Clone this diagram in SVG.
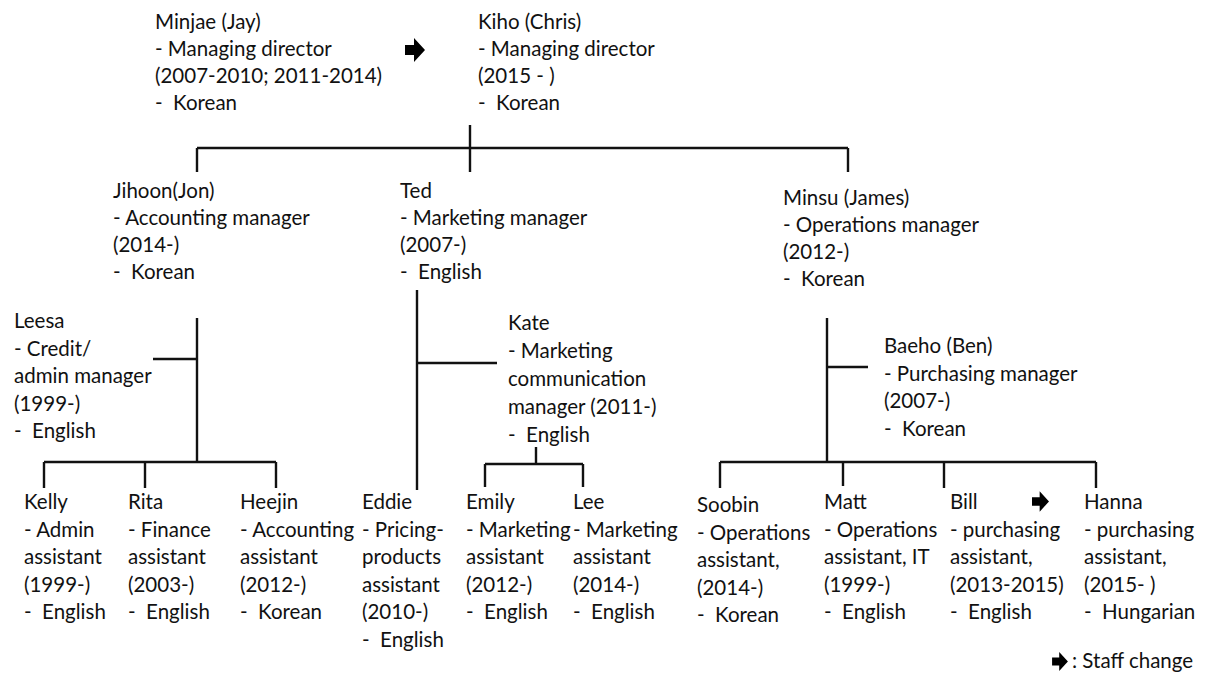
<svg xmlns="http://www.w3.org/2000/svg" width="1206" height="674" viewBox="0 0 1206 674">
<defs>
<style>
.t{font-family:Lato,"Open Sans","Noto Sans",sans-serif;font-size:20.5px;fill:#111;white-space:pre}
.c{stroke:#111;stroke-width:2.4;fill:none}
.arr{fill:#000}
</style>
<symbol id="blockArrow" viewBox="0 0 20 24" overflow="visible">
<path d="M0 7 H9 V0 L20 12 L9 24 V17 H0 Z"/>
</symbol>
</defs>
<rect width="1206" height="674" fill="#fff"/>

<g id="connectors">
<path class="c" d="M470 125 V148 M197 148 H848 M197 148 V172 M470 148 V172 M848 148 V172"/>
<path class="c" d="M197 318 V462 M153 359 H197 M44 462 H276 M44 462 V488 M145 462 V488 M276 462 V488"/>
<path class="c" d="M417 290 V490 M417 363 H497 M536 447 V464 M485 464 H583 M485 464 V487 M583 464 V487"/>
<path class="c" d="M827 318 V462 M827 367 H868 M720 462 H1096 M720 462 V488 M843 462 V486 M944 462 V488 M1096 462 V488"/>
</g>

<g id="change-arrows" class="arr">
<use href="#blockArrow" x="405" y="38" width="20" height="24"/>
<use href="#blockArrow" x="1032" y="491" width="17" height="21"/>
<use href="#blockArrow" x="1052" y="652" width="16" height="19"/>
</g>

<g id="node-minjae"><text class="t" x="155" y="29"><tspan x="155">Minjae (Jay)</tspan><tspan x="155" dy="27">- Managing director</tspan><tspan x="155" dy="27">(2007-2010; 2011-2014)</tspan><tspan x="155" dy="27">-  Korean</tspan></text></g>
<g id="node-kiho"><text class="t" x="478" y="29"><tspan x="478">Kiho (Chris)</tspan><tspan x="478" dy="27">- Managing director</tspan><tspan x="478" dy="27">(2015 - )</tspan><tspan x="478" dy="27">-  Korean</tspan></text></g>

<g id="node-jihoon"><text class="t" x="113" y="198"><tspan x="113">Jihoon(Jon)</tspan><tspan x="113" dy="27">- Accounting manager</tspan><tspan x="113" dy="27">(2014-)</tspan><tspan x="113" dy="27">-  Korean</tspan></text></g>
<g id="node-ted"><text class="t" x="400" y="198"><tspan x="400">Ted</tspan><tspan x="400" dy="27">- Marketing manager</tspan><tspan x="400" dy="27">(2007-)</tspan><tspan x="400" dy="27">-  English</tspan></text></g>
<g id="node-minsu"><text class="t" x="783" y="205"><tspan x="783">Minsu (James)</tspan><tspan x="783" dy="27">- Operations manager</tspan><tspan x="783" dy="27">(2012-)</tspan><tspan x="783" dy="27">-  Korean</tspan></text></g>

<g id="node-leesa"><text class="t" x="14" y="328"><tspan x="14">Leesa</tspan><tspan x="14" dy="27.5">- Credit/</tspan><tspan x="14" dy="27.5">admin manager</tspan><tspan x="14" dy="27.5">(1999-)</tspan><tspan x="14" dy="27.5">-  English</tspan></text></g>
<g id="node-kate"><text class="t" x="508" y="330"><tspan x="508">Kate</tspan><tspan x="508" dy="28">- Marketing</tspan><tspan x="508" dy="28">communication</tspan><tspan x="508" dy="28">manager (2011-)</tspan><tspan x="508" dy="28">-  English</tspan></text></g>
<g id="node-baeho"><text class="t" x="884" y="353"><tspan x="884">Baeho (Ben)</tspan><tspan x="884" dy="27.5">- Purchasing manager</tspan><tspan x="884" dy="27.5">(2007-)</tspan><tspan x="884" dy="27.5">-  Korean</tspan></text></g>

<g id="node-kelly"><text class="t" x="24" y="509"><tspan x="24">Kelly</tspan><tspan x="24" dy="27.5">- Admin</tspan><tspan x="24" dy="27.5">assistant</tspan><tspan x="24" dy="27.5">(1999-)</tspan><tspan x="24" dy="27.5">-  English</tspan></text></g>
<g id="node-rita"><text class="t" x="128" y="509"><tspan x="128">Rita</tspan><tspan x="128" dy="27.5">- Finance</tspan><tspan x="128" dy="27.5">assistant</tspan><tspan x="128" dy="27.5">(2003-)</tspan><tspan x="128" dy="27.5">-  English</tspan></text></g>
<g id="node-heejin"><text class="t" x="240" y="509"><tspan x="240">Heejin</tspan><tspan x="240" dy="27.5">- Accounting</tspan><tspan x="240" dy="27.5">assistant</tspan><tspan x="240" dy="27.5">(2012-)</tspan><tspan x="240" dy="27.5">-  Korean</tspan></text></g>
<g id="node-eddie"><text class="t" x="362" y="509"><tspan x="362">Eddie</tspan><tspan x="362" dy="27.5">- Pricing-</tspan><tspan x="362" dy="27.5">products</tspan><tspan x="362" dy="27.5">assistant</tspan><tspan x="362" dy="27.5">(2010-)</tspan><tspan x="362" dy="27.5">-  English</tspan></text></g>
<g id="node-emily"><text class="t" x="466" y="509"><tspan x="466">Emily</tspan><tspan x="466" dy="27.5">- Marketing</tspan><tspan x="466" dy="27.5">assistant</tspan><tspan x="466" dy="27.5">(2012-)</tspan><tspan x="466" dy="27.5">-  English</tspan></text></g>
<g id="node-lee"><text class="t" x="573" y="509"><tspan x="573">Lee</tspan><tspan x="573" dy="27.5">- Marketing</tspan><tspan x="573" dy="27.5">assistant</tspan><tspan x="573" dy="27.5">(2014-)</tspan><tspan x="573" dy="27.5">-  English</tspan></text></g>
<g id="node-soobin"><text class="t" x="697" y="512"><tspan x="697">Soobin</tspan><tspan x="697" dy="27.5">- Operations</tspan><tspan x="697" dy="27.5">assistant,</tspan><tspan x="697" dy="27.5">(2014-)</tspan><tspan x="697" dy="27.5">-  Korean</tspan></text></g>
<g id="node-matt"><text class="t" x="824" y="509"><tspan x="824">Matt</tspan><tspan x="824" dy="27.5">- Operations</tspan><tspan x="824" dy="27.5">assistant, IT</tspan><tspan x="824" dy="27.5">(1999-)</tspan><tspan x="824" dy="27.5">-  English</tspan></text></g>
<g id="node-bill"><text class="t" x="950" y="509"><tspan x="950">Bill</tspan><tspan x="950" dy="27.5">- purchasing</tspan><tspan x="950" dy="27.5">assistant,</tspan><tspan x="950" dy="27.5">(2013-2015)</tspan><tspan x="950" dy="27.5">-  English</tspan></text></g>
<g id="node-hanna"><text class="t" x="1084" y="509"><tspan x="1084">Hanna</tspan><tspan x="1084" dy="27.5">- purchasing</tspan><tspan x="1084" dy="27.5">assistant,</tspan><tspan x="1084" dy="27.5">(2015- )</tspan><tspan x="1084" dy="27.5">-  Hungarian</tspan></text></g>

<g id="legend"><text class="t" x="1072" y="668">: Staff change</text></g>
</svg>
